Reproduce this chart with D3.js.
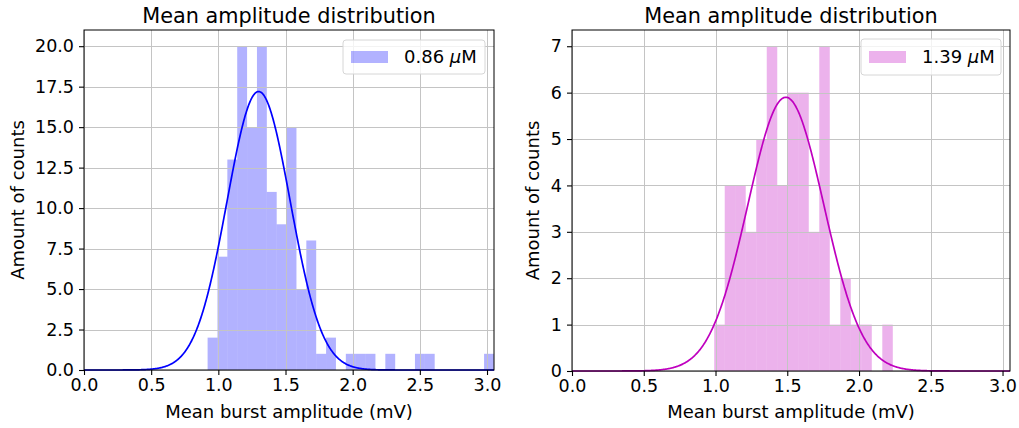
<!DOCTYPE html>
<html>
<head>
<meta charset="utf-8">
<script src="https://cdn.jsdelivr.net/npm/d3@7"></script>
<style>
  body { margin: 0; background: #fff; }
  text { font-family: "DejaVu Sans", sans-serif; fill: #000; }
  .grid line { stroke: #c4c4c4; stroke-width: 1; }
  .axis path, .axis line { stroke: #000; }
</style>
</head>
<body>
<div id="chart"></div>
<script>
//////// data ////////

// left panel: 0.86 uM
var leftBinStart = 0.92;
var leftBinWidth = 0.0735;
var leftCounts = [2, 7, 13, 20, 15, 20, 11, 9, 15, 5, 8, 1, 2, 0, 1, 1, 1, 0, 1, 0, 0, 1, 1, 0, 0, 0, 0, 0, 1];
var leftFit = {amp: 17.2, mu: 1.30, sigma: 0.235};

// right panel: 1.39 uM
var rightBinStart = 0.991;
var rightBinWidth = 0.0732;
var rightCounts = [1, 4, 4, 3, 5, 7, 4, 6, 6, 3, 7, 1, 2, 1, 1, 0, 1];
var rightFit = {amp: 5.9, mu: 1.49, sigma: 0.265};

var xTicks = [0, 0.5, 1.0, 1.5, 2.0, 2.5, 3.0];
var leftYTicks = [0, 2.5, 5, 7.5, 10, 12.5, 15, 17.5, 20];
var rightYTicks = [0, 1, 2, 3, 4, 5, 6, 7];
var xMax = 3.052;

var tickFont = "17.5px";
var labelFont = "18px";

var svg = d3.select("#chart").append("svg")
  .attr("width", 1019)
  .attr("height", 428);

drawPanel({
  left: 84, right: 494, top: 30, bottom: 370,
  binStart: leftBinStart, binWidth: leftBinWidth, counts: leftCounts,
  fit: leftFit, yMax: 21, yTicks: leftYTicks, yFormat: d3.format(".1f"),
  barColor: "#0000ff", lineColor: "#0000ff",
  label: "0.86", ylabelX: 18,
  legend: {x: 343, y: 40, w: 142, h: 34}
});

drawPanel({
  left: 572, right: 1010, top: 30, bottom: 371,
  binStart: rightBinStart, binWidth: rightBinWidth, counts: rightCounts,
  fit: rightFit, yMax: 7.35, yTicks: rightYTicks, yFormat: d3.format("d"),
  barColor: "#bf00bf", lineColor: "#bf00bf",
  label: "1.39", ylabelX: 533,
  legend: {x: 861, y: 39, w: 140, h: 36}
});

function drawPanel(o) {
  var x = d3.scaleLinear().domain([0, xMax]).range([o.left, o.right]);
  var y = d3.scaleLinear().domain([0, o.yMax]).range([o.bottom, o.top]);
  var g = svg.append("g");

  // bars
  var bins = o.counts.map(function(c, i) {
    return {x0: o.binStart + i * o.binWidth, x1: o.binStart + (i + 1) * o.binWidth, n: c};
  });
  g.append("g").selectAll("rect")
    .data(bins.filter(function(d) { return d.n > 0; }))
    .enter().append("rect")
    .attr("x", function(d) { return x(d.x0); })
    .attr("width", function(d) { return x(d.x1) - x(d.x0); })
    .attr("y", function(d) { return y(d.n); })
    .attr("height", function(d) { return y(0) - y(d.n); })
    .attr("fill", o.barColor)
    .attr("fill-opacity", 0.3);

  // grid on top of the bars
  var grid = g.append("g").attr("class", "grid");
  grid.selectAll(".gx").data(xTicks).enter().append("line")
    .attr("x1", function(d) { return Math.round(x(d)) + 0.5; })
    .attr("x2", function(d) { return Math.round(x(d)) + 0.5; })
    .attr("y1", o.top).attr("y2", o.bottom);
  grid.selectAll(".gy").data(o.yTicks).enter().append("line")
    .attr("y1", function(d) { return Math.round(y(d)) + 0.5; })
    .attr("y2", function(d) { return Math.round(y(d)) + 0.5; })
    .attr("x1", o.left).attr("x2", o.right);

  // gaussian fit
  var xs = d3.range(0, 801).map(function(i) { return xMax * i / 800; });
  var line = d3.line()
    .x(function(d) { return x(d); })
    .y(function(d) {
      var z = (d - o.fit.mu) / o.fit.sigma;
      return y(o.fit.amp * Math.exp(-0.5 * z * z));
    });
  g.append("path")
    .datum(xs)
    .attr("d", line)
    .attr("fill", "none")
    .attr("stroke", o.lineColor)
    .attr("stroke-width", 1.7);

  // axes
  g.append("g")
    .attr("class", "axis")
    .attr("transform", "translate(0," + o.bottom + ")")
    .call(d3.axisBottom(x).tickValues(xTicks).tickFormat(d3.format(".1f")).tickSizeOuter(0).tickSize(5).tickPadding(4))
    .call(function(a) { a.select(".domain").remove(); })
    .selectAll("text").style("font-size", tickFont).attr("fill", "#000");

  g.append("g")
    .attr("class", "axis")
    .attr("transform", "translate(" + o.left + ",0)")
    .call(d3.axisLeft(y).tickValues(o.yTicks).tickFormat(o.yFormat).tickSizeOuter(0).tickSize(5).tickPadding(5))
    .call(function(a) { a.select(".domain").remove(); })
    .selectAll("text").style("font-size", tickFont).attr("fill", "#000");

  g.selectAll(".axis .tick line").attr("stroke-width", 1.1);

  // frame
  g.append("rect")
    .attr("x", o.left).attr("y", o.top)
    .attr("width", o.right - o.left).attr("height", o.bottom - o.top)
    .attr("fill", "none").attr("stroke", "#000").attr("stroke-width", 1);

  // title and labels
  var cx = (o.left + o.right) / 2;
  g.append("text")
    .attr("x", cx).attr("y", 23)
    .attr("text-anchor", "middle")
    .style("font-size", "20.8px")
    .text("Mean amplitude distribution");

  g.append("text")
    .attr("x", cx).attr("y", 418)
    .attr("text-anchor", "middle")
    .style("font-size", labelFont)
    .text("Mean burst amplitude (mV)");

  g.append("text")
    .attr("transform", "translate(" + o.ylabelX + "," + ((o.top + o.bottom) / 2) + ") rotate(-90)")
    .attr("text-anchor", "middle")
    .attr("dy", "0.35em")
    .style("font-size", labelFont)
    .text("Amount of counts");

  // legend
  var lg = g.append("g").attr("transform", "translate(" + o.legend.x + "," + o.legend.y + ")");
  lg.append("rect")
    .attr("width", o.legend.w).attr("height", o.legend.h)
    .attr("rx", 3)
    .attr("fill", "#fff").attr("fill-opacity", 0.8)
    .attr("stroke", "#d6d6d6");
  lg.append("rect")
    .attr("x", 8).attr("y", o.legend.h / 2 - 6)
    .attr("width", 37).attr("height", 12)
    .attr("fill", o.barColor).attr("fill-opacity", 0.3);
  var t = lg.append("text")
    .attr("x", 61).attr("y", o.legend.h / 2)
    .attr("dy", "0.36em")
    .style("font-size", labelFont);
  t.append("tspan").text(o.label + " ");
  t.append("tspan").style("font-style", "italic").text("\u03bc");
  t.append("tspan").text("M");
}
</script>
</body>
</html>
